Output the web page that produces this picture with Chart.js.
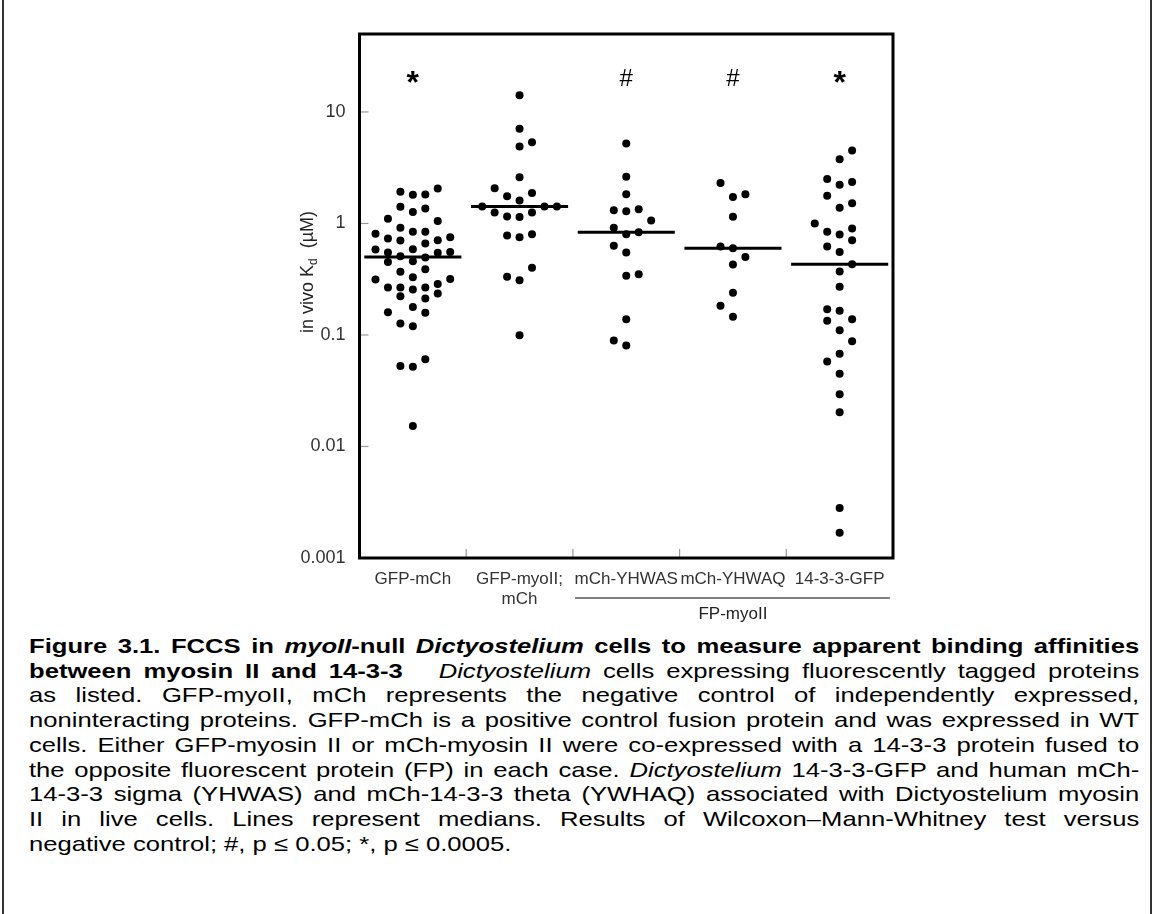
<!DOCTYPE html>
<html>
<head>
<meta charset="utf-8">
<script src="https://cdn.jsdelivr.net/npm/chart.js@4.4.1/dist/chart.umd.min.js"></script>
<style>
  body { margin: 0; background: #fff; font-family: "Liberation Sans", Arial, sans-serif; }
  #wrap { position: relative; width: 1155px; height: 914px; overflow: hidden; }
  #chartBox { position: absolute; left: 0; top: 0; }
  .edge { position: absolute; top: 0; bottom: 0; width: 2px; background: #333; }
  #caption { position: absolute; left: 29px; width: 910px; top: 634px; font-size: 21px; line-height: 24.7px; color: #000;
             transform: scaleX(1.22); transform-origin: 0 0; }
  #caption div { text-align: justify; text-align-last: justify; }
  #caption div.last { text-align-last: left; }
</style>
</head>
<body>
<div id="wrap">
  <div class="edge" style="left:2px"></div>
  <div class="edge" style="left:1150px"></div>
  <canvas id="chartBox" width="1155" height="630"></canvas>
  <div id="caption">
    <div><b>Figure 3.1. FCCS in <i>myoII</i>-null <i>Dictyostelium</i> cells to measure apparent binding affinities</b></div>
    <div><b>between myosin II and 14-3-3</b>&nbsp;&nbsp; <i>Dictyostelium</i> cells expressing fluorescently tagged proteins</div>
    <div>as listed. GFP-myoII, mCh represents the negative control of independently expressed,</div>
    <div>noninteracting proteins. GFP-mCh is a positive control fusion protein and was expressed in WT</div>
    <div>cells. Either GFP-myosin II or mCh-myosin II were co-expressed with a 14-3-3 protein fused to</div>
    <div>the opposite fluorescent protein (FP) in each case. <i>Dictyostelium</i> 14-3-3-GFP and human mCh-</div>
    <div>14-3-3 sigma (YHWAS) and mCh-14-3-3 theta (YWHAQ) associated with Dictyostelium myosin</div>
    <div>II in live cells. Lines represent medians. Results of Wilcoxon–Mann-Whitney test versus</div>
    <div class="last">negative control; #, p ≤ 0.05; *, p ≤ 0.0005.</div>
  </div>
</div>
<script>
// categories along the x axis
const categories = ["GFP-mCh", ["GFP-myoII;", "mCh"], "mCh-YHWAS", "mCh-YHWAQ", "14-3-3-GFP"];
const sigMarks = ["*", "", "#", "#", "*"];
const yTicks = [0.001, 0.01, 0.1, 1, 10];

// in vivo Kd values (uM) read per group, with the beeswarm column of each dot
const gfpMch = [1.92, 1.81, 1.82, 2.06, 1.41, 1.27, 1.36, 1.10, 1.05, 0.913, 0.841, 0.841, 0.807,
  0.734, 0.704, 0.662, 0.708, 0.754, 0.584, 0.549, 0.588, 0.545, 0.556, 0.509, 0.496, 0.452, 0.459,
  0.368, 0.389, 0.330, 0.315, 0.317, 0.267, 0.267, 0.256, 0.267, 0.286, 0.236, 0.223, 0.212,
  0.178, 0.160, 0.158, 0.127, 0.120, 0.0528, 0.0518, 0.0607, 0.0153];
const gfpMchCol = [-1, 0, 1, 2, -1, 0, 1, -2, 2, -1, 0, 1, -3,
  -2, -1, 1, 2, 3, -3, -2, 0, 2, 3, -1, 1, -2, 0,
  -1, 1, 0, -3, 3, -2, -1, 0, 1, 2, 2, -1, 1,
  0, -2, 1, -1, 0, -1, 0, 1, 0];

const gfpMyo = [14.15, 7.05, 4.90, 5.36, 2.60, 2.07, 1.88, 1.75, 1.61, 1.42, 1.42, 1.42,
  1.255, 1.255, 1.155, 1.14, 0.78, 0.754, 0.80, 0.40, 0.332, 0.31, 0.0996];
const gfpMyoCol = [0, 0, 0, 1, 0, -2, 1, -1, 0, -3, 2, 3, -2, 1, -1, 0, -1, 0, 1, 1, -1, 0, 0];

const yhwas = [5.22, 2.62, 1.83, 1.316, 1.289, 1.343, 1.064, 0.913, 0.80, 0.836, 0.63, 0.549,
  0.339, 0.351, 0.1386, 0.0893, 0.0805];
const yhwasCol = [0, 0, 0, -1, 0, 1, 2, -1, 0, 1, -1, 0, 0, 1, 0, -1, 0];

const yhwaq = [2.31, 1.73, 1.83, 1.146, 0.622, 0.60, 0.50, 0.429, 0.239, 0.1824, 0.146];
const yhwaqCol = [-1, 0, 1, 0, -1, 0, 1, 0, 0, -1, 0];

const gfp1433 = [4.52, 3.77, 2.51, 2.22, 2.35, 1.77, 1.38, 1.52, 1.0, 0.841, 0.797, 0.902, 0.708,
  0.622, 0.556, 0.431, 0.371, 0.27, 0.170, 0.1645, 0.1338, 0.1386, 0.1104, 0.088, 0.0677, 0.0578,
  0.0448, 0.0294, 0.0203, 0.00281, 0.00168];
const gfp1433Col = [1, 0, -1, 0, 1, -1, 0, 1, -2, -1, 0, 1, 1, -1, 0, 1, 0, 0, -1, 0, -1, 1, 0, 1,
  0, -1, 0, 0, 0, 0, 0];

const medians = [0.5, 1.42, 0.836, 0.60, 0.431];

const groups = [[gfpMch, gfpMchCol], [gfpMyo, gfpMyoCol], [yhwas, yhwasCol], [yhwaq, yhwaqCol], [gfp1433, gfp1433Col]];
const colStep = 0.1167;   // beeswarm column spacing in category units
const halfMedian = 0.455;
const FONT = "'Liberation Sans', Arial";

const datasets = [];
groups.forEach(([vals, cols], i) => {
  datasets.push({
    type: "scatter",
    data: vals.map((v, k) => ({ x: i + cols[k] * colStep, y: v })),
    pointRadius: 4,
    pointBackgroundColor: "#000",
    pointBorderWidth: 0
  });
  datasets.push({
    type: "line",
    data: [{ x: i - halfMedian, y: medians[i] }, { x: i + halfMedian, y: medians[i] }],
    borderColor: "#000",
    borderWidth: 3,
    pointRadius: 0
  });
});

const annotate = {
  id: "annotate",
  afterDatasetsDraw(chart) {
    const { ctx, chartArea: a, scales: { x, y } } = chart;
    ctx.save();

    // short inward ticks
    ctx.strokeStyle = "#9a9a9a";
    ctx.lineWidth = 1.2;
    yTicks.forEach(v => {
      const py = y.getPixelForValue(v);
      ctx.beginPath(); ctx.moveTo(a.left, py); ctx.lineTo(a.left + 9, py); ctx.stroke();
    });
    for (let i = 0; i < categories.length - 1; i++) {
      const px = x.getPixelForValue(i + 0.5);
      ctx.beginPath(); ctx.moveTo(px, a.bottom); ctx.lineTo(px, a.bottom - 9); ctx.stroke();
    }

    // plot frame
    ctx.strokeStyle = "#000";
    ctx.lineWidth = 3;
    ctx.strokeRect(a.left, a.top, a.right - a.left, a.bottom - a.top);

    // significance marks
    ctx.fillStyle = "#000";
    ctx.textAlign = "center";
    ctx.textBaseline = "middle";
    sigMarks.forEach((m, i) => {
      if (!m) return;
      const px = x.getPixelForValue(i);
      if (m === "*") {
        ctx.font = "bold 32px " + FONT;
        ctx.fillText(m, px, y.getPixelForValue(20) + 6);
      } else {
        ctx.font = "24px " + FONT;
        ctx.fillText(m, px, y.getPixelForValue(20) + 1);
      }
    });

    // FP-myoII group bracket
    ctx.strokeStyle = "#555";
    ctx.lineWidth = 1.3;
    const by = a.bottom + 40;
    ctx.beginPath();
    ctx.moveTo(x.getPixelForValue(1.52), by);
    ctx.lineTo(x.getPixelForValue(4.47), by);
    ctx.stroke();
    ctx.fillStyle = "#222";
    ctx.font = "17px " + FONT;
    ctx.fillText("FP-myoII", x.getPixelForValue(3), by + 16);

    // y axis title with subscript
    ctx.translate(307, 272);
    ctx.rotate(-Math.PI / 2);
    const main = "in vivo K", sub = "d", tail = "  (\u00b5M)";
    ctx.font = "18px " + FONT;
    const w1 = ctx.measureText(main).width, w3 = ctx.measureText(tail).width;
    ctx.font = "12px " + FONT;
    const w2 = ctx.measureText(sub).width;
    let cx = -(w1 + w2 + w3) / 2;
    ctx.textAlign = "left";
    ctx.textBaseline = "alphabetic";
    ctx.fillStyle = "#222";
    ctx.font = "18px " + FONT;
    ctx.fillText(main, cx, 6);
    cx += w1;
    ctx.font = "12px " + FONT;
    ctx.fillText(sub, cx, 10);
    cx += w2;
    ctx.font = "18px " + FONT;
    ctx.fillText(tail, cx, 6);

    ctx.restore();
  }
};

new Chart(document.getElementById("chartBox"), {
  type: "scatter",
  data: { datasets },
  options: {
    responsive: false,
    devicePixelRatio: 1,
    animation: false,
    layout: { padding: { left: 0, top: 34, right: 262, bottom: 0 } },
    plugins: { legend: { display: false }, tooltip: { enabled: false } },
    scales: {
      x: {
        type: "linear",
        min: -0.5,
        max: 4.5,
        afterBuildTicks: s => { s.ticks = categories.map((c, i) => ({ value: i })); },
        afterFit: s => { s.height = 72; },
        ticks: {
          callback: v => categories[v],
          autoSkip: false,
          maxRotation: 0,
          padding: 11,
          color: "#333",
          font: { family: FONT, size: 17 }
        },
        grid: { display: false, drawTicks: false },
        border: { display: false }
      },
      y: {
        type: "logarithmic",
        min: 0.001,
        max: 50,
        afterBuildTicks: s => { s.ticks = yTicks.map(v => ({ value: v })); },
        afterFit: s => { s.width = 359.5; },
        ticks: {
          callback: v => String(v),
          padding: 14,
          color: "#333",
          font: { family: FONT, size: 18 }
        },
        grid: { display: false, drawTicks: false },
        border: { display: false }
      }
    }
  },
  plugins: [annotate]
});
</script>
</body>
</html>
